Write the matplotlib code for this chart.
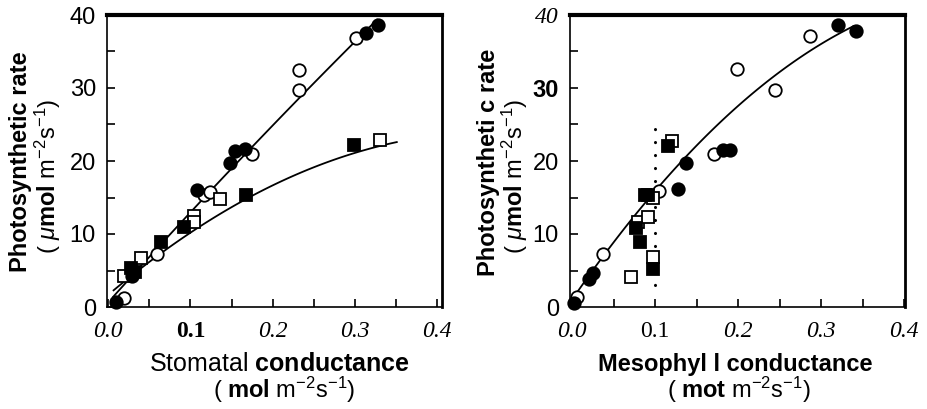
# Photosynthetic rate vs stomatal / mesophyll conductance (two panels)

import numpy as np
import matplotlib.pyplot as plt

SANS = 'Liberation Sans'
SERIF = 'Liberation Serif'
plt.rcParams['mathtext.fontset'] = 'custom'
plt.rcParams['mathtext.rm'] = SANS
plt.rcParams['mathtext.bf'] = SANS + ':bold'
plt.rcParams['mathtext.it'] = SANS + ':italic'

# ---- data ----
# left panel: stomatal conductance
st_fc_x = [0.010, 0.029, 0.108, 0.148, 0.154, 0.166, 0.313, 0.328]
st_fc_y = [0.7, 4.2, 16.0, 19.7, 21.4, 21.6, 37.6, 38.6]
st_oc_x = [0.019, 0.059, 0.116, 0.124, 0.175, 0.232, 0.232, 0.301]
st_oc_y = [1.3, 7.3, 15.3, 15.8, 21.0, 32.5, 29.7, 36.8]
st_fs_x = [0.028, 0.032, 0.064, 0.092, 0.168, 0.299]
st_fs_y = [5.4, 4.8, 8.9, 11.0, 15.3, 22.2]
st_os_x = [0.019, 0.040, 0.104, 0.104, 0.136, 0.330]
st_os_y = [4.2, 6.7, 12.4, 11.6, 14.8, 22.9]

# points along the fitted lines as drawn in the figure
st_line1_x = [0.006, 0.057, 0.118, 0.154, 0.235, 0.298, 0.327]
st_line1_y = [1.8, 7.3, 14.7, 19.6, 29.3, 36.6, 38.8]
st_line2_x = [0.0065, 0.0976, 0.142, 0.170, 0.233, 0.294, 0.351]
st_line2_y = [2.3, 10.1, 13.0, 14.8, 18.5, 21.0, 22.5]

# right panel: mesophyll conductance
me_fc_x = [0.002, 0.020, 0.025, 0.128, 0.137, 0.182, 0.190, 0.320, 0.342]
me_fc_y = [0.5, 3.9, 4.6, 16.2, 19.7, 21.5, 21.5, 38.6, 37.8]
me_oc_x = [0.006, 0.037, 0.105, 0.171, 0.199, 0.245, 0.286]
me_oc_y = [1.4, 7.2, 15.9, 21.0, 32.6, 29.7, 37.1]
me_fs_x = [0.077, 0.082, 0.088, 0.091, 0.098, 0.116]
me_fs_y = [10.8, 8.9, 15.4, 15.3, 5.2, 22.1]
me_os_x = [0.071, 0.079, 0.092, 0.097, 0.098, 0.120]
me_os_y = [4.1, 11.7, 12.3, 6.8, 15.0, 22.8]

me_line_x = [0.0, 0.036, 0.106, 0.146, 0.198, 0.267, 0.339]
me_line_y = [0.8, 7.2, 16.3, 21.8, 27.2, 33.8, 38.4]

me_dot_x = [0.1, 0.1]
me_dot_y = [3.0, 24.7]

xticks = [0.0, 0.1, 0.2, 0.3, 0.4]
xticklabels = ['0.0', '0.1', '0.2', '0.3', '0.4']
yticks = [0, 10, 20, 30, 40]
yticklabels = ['0', '10', '20', '30', '40']

fig = plt.figure(figsize=(9.27, 4.09), dpi=100)
W, H = 927, 409
TICK = 17


def px_axes(x0, y0, x1, y1):
    # pixel box (top-left origin) -> figure fraction axes
    return fig.add_axes([x0 / W, 1 - y1 / H, (x1 - x0) / W, (y1 - y0) / H])


def fit_line(ax, xs, ys, deg):
    # smooth curve through the points
    c = np.polyfit(xs, ys, deg)
    xx = np.linspace(min(xs), max(xs), 100)
    ax.plot(xx, np.polyval(c, xx), color='black', lw=1.3, zorder=2)


def markers(ax, fcx, fcy, ocx, ocy, fsx, fsy, osx, osy):
    kw = dict(linestyle='none', markersize=9, markeredgewidth=1.3,
              markeredgecolor='black', clip_on=False, zorder=3)
    ax.plot(ocx, ocy, marker='o', markerfacecolor='white', **kw)
    ax.plot(osx, osy, marker='s', markerfacecolor='white', **kw)
    ax.plot(fcx, fcy, marker='o', markerfacecolor='black', **kw)
    ax.plot(fsx, fsy, marker='s', markerfacecolor='black', **kw)


def style_axes(ax, xlim):
    ax.set_xlim(*xlim)
    ax.set_ylim(0, 40)
    ax.set_xticks(xticks)
    ax.set_xticks([0.05, 0.15, 0.25, 0.35], minor=True)
    ax.set_yticks(yticks)
    ax.set_yticks([5, 15, 25, 35], minor=True)
    ax.tick_params(which='both', direction='in', width=1.2, length=6, color='black')
    ax.tick_params(axis='x', pad=10)
    ax.tick_params(axis='y', pad=8)
    ax.spines['top'].set_linewidth(3)
    ax.spines['right'].set_linewidth(2)
    ax.spines['left'].set_linewidth(1.2)
    ax.spines['bottom'].set_linewidth(1.2)


# ---- left panel ----
ax1 = px_axes(107, 15, 442, 307)
fit_line(ax1, st_line1_x, st_line1_y, 2)
fit_line(ax1, st_line2_x, st_line2_y, 2)
markers(ax1, st_fc_x, st_fc_y, st_oc_x, st_oc_y, st_fs_x, st_fs_y, st_os_x, st_os_y)
style_axes(ax1, (-0.0015, 0.406))

ax1.set_xticklabels(xticklabels)
for i, t in enumerate(ax1.get_xticklabels()):
    if i == 1:
        t.set_fontproperties({'family': SERIF, 'weight': 'bold', 'size': TICK})
    else:
        t.set_fontproperties({'family': SERIF, 'style': 'italic', 'size': TICK})
ax1.set_yticklabels(yticklabels)
for t in ax1.get_yticklabels():
    t.set_fontproperties({'family': SANS, 'size': TICK})

# ---- right panel ----
ax2 = px_axes(570, 15, 905, 307)
fit_line(ax2, me_line_x, me_line_y, 2)
ax2.plot(me_dot_x, me_dot_y, color='black', lw=2.2, linestyle=(0, (0.05, 4.2)),
         dash_capstyle='round', zorder=1)
markers(ax2, me_fc_x, me_fc_y, me_oc_x, me_oc_y, me_fs_x, me_fs_y, me_os_x, me_os_y)
style_axes(ax2, (-0.0025, 0.401))

ax2.set_xticklabels(xticklabels)
for i, t in enumerate(ax2.get_xticklabels()):
    if i == 1:
        t.set_fontproperties({'family': SERIF, 'size': TICK})
    else:
        t.set_fontproperties({'family': SERIF, 'style': 'italic', 'size': TICK})
ax2.set_yticklabels(yticklabels)
for i, t in enumerate(ax2.get_yticklabels()):
    if i == 4:
        t.set_fontproperties({'family': SERIF, 'style': 'italic', 'size': TICK})
    elif i == 3:
        t.set_fontproperties({'family': SANS, 'weight': 'bold', 'size': TICK})
    else:
        t.set_fontproperties({'family': SANS, 'size': TICK})


# ---- axis titles ----
def ftext(x, y, s, **kw):
    fig.text(x / W, 1 - y / H, s, ha='center', va='center', **kw)


ylab2 = r'( $\mu$$\bf{mol}$ m$^{-2}$s$^{-1}$)'
ftext(21, 162, 'Photosynthetic rate', rotation=90, family=SANS, weight='bold', size=17)
ftext(48, 176, ylab2, rotation=90, family=SANS, size=17)
ftext(489, 162, 'Photosyntheti c rate', rotation=90, family=SANS, weight='bold', size=17)
ftext(515, 176, ylab2, rotation=90, family=SANS, size=17)

ftext(280, 364, 'Stomatal $\\bf{conductance}$', family=SANS, size=18)
ftext(284, 390, r'( $\bf{mol}$ m$^{-2}$s$^{-1}$)', family=SANS, size=17)
ftext(735, 364, 'Mesophyl l conductance', family=SANS, weight='bold', size=17)
ftext(739, 390, r'( $\bf{mot}$ m$^{-2}$s$^{-1}$)', family=SANS, size=17)

fig.savefig('out.png', dpi=100)
